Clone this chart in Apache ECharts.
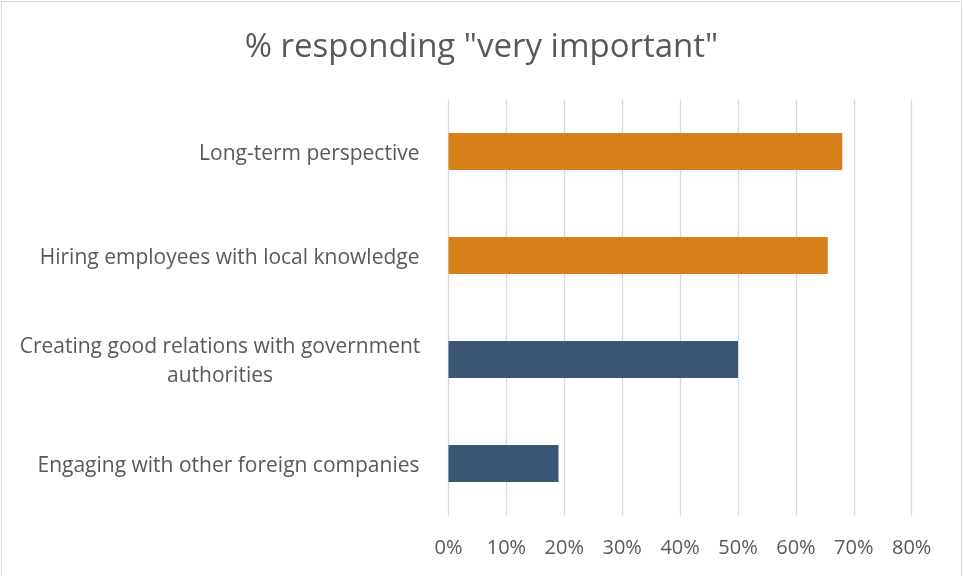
<!DOCTYPE html>
<html>
<head>
<meta charset="utf-8">
<style>
  html, body { margin: 0; padding: 0; background: #ffffff; }
  #chart { width: 963px; height: 576px; }
</style>
<script src="https://cdn.jsdelivr.net/npm/echarts@6/dist/echarts.min.js"></script>
</head>
<body>
<div id="chart"></div>
<script>
// Survey answers: share of respondents rating each factor "very important"
const categories = [
  'Long-term perspective',
  'Hiring employees with local knowledge',
  'Creating good relations with government\nauthorities',
  'Engaging with other foreign companies'
];
const values = [68, 65.5, 50, 19];
const barColors = ['#D67E17', '#D67E17', '#3A5674', '#3A5674'];
const tickLabels = ['0%', '10%', '20%', '30%', '40%', '50%', '60%', '70%', '80%'];

const chart = echarts.init(document.getElementById('chart'));
const textColor = '#595959';
const fontFamily = '"Open Sans", sans-serif';

chart.setOption({
  animation: false,
  backgroundColor: '#ffffff',
  title: {
    text: '% responding "very important"',
    left: 'center',
    top: 26,
    textStyle: { color: textColor, fontSize: 33, fontWeight: 'normal', fontFamily: fontFamily }
  },
  graphic: [{
    type: 'rect',
    shape: { x: 1.5, y: 1.5, width: 960, height: 580 },
    style: { fill: 'none', stroke: '#d9d9d9', lineWidth: 1 },
    silent: true
  }],
  grid: { left: 448.5, right: 51.3, top: 99.5, bottom: 60.5 },
  xAxis: {
    type: 'value',
    min: 0,
    max: 80,
    interval: 10,
    axisLine: { show: false },
    axisTick: { show: false },
    splitLine: { show: true, lineStyle: { color: '#d9d9d9', width: 1.3 } },
    axisLabel: {
      margin: 23,
      color: textColor,
      fontSize: 20,
      fontFamily: fontFamily,
      formatter: (v) => tickLabels[Math.round(v / 10)]
    }
  },
  yAxis: {
    type: 'category',
    data: categories,
    inverse: true,
    axisLine: { show: false },
    axisTick: { show: false },
    axisLabel: {
      margin: 29,
      color: textColor,
      fontSize: 21,
      fontFamily: fontFamily,
      align: 'right',
      padding: [5, 0, 0, 0],
      formatter: (name) => {
        const lines = name.split('\n');
        if (lines.length === 1) return name;
        return lines.map((l) => '{c|' + l + '}').join('\n');
      },
      rich: {
        c: { width: 399, align: 'center', fontSize: 21, color: textColor, fontFamily: fontFamily, lineHeight: 29 }
      }
    }
  },
  series: [{
    type: 'bar',
    data: values.map((v, i) => ({ value: v, itemStyle: { color: barColors[i] } })),
    barWidth: 37
  }]
});
</script>
</body>
</html>
